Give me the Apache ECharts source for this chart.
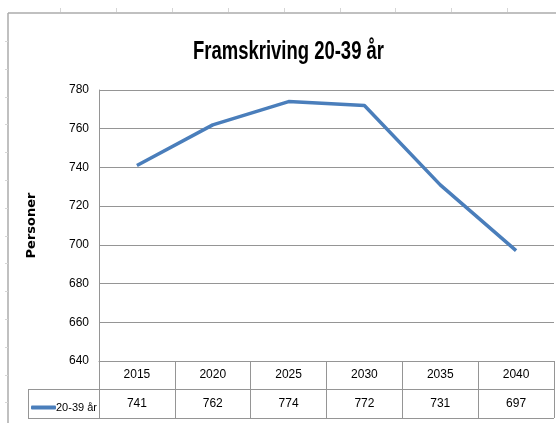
<!DOCTYPE html>
<html>
<head>
<meta charset="utf-8">
<script src="https://cdn.jsdelivr.net/npm/echarts@6/dist/echarts.min.js"></script>
<style>
  html, body { margin: 0; padding: 0; background: #fff; }
  #chart { width: 556px; height: 423px; }
</style>
</head>
<body>
<div id="chart"></div>
<script>
// data
var years = ['2015', '2020', '2025', '2030', '2035', '2040'];
var persons = [741, 762, 774, 772, 731, 697];
var seriesName = '20-39 år';
var titleText = 'Framskriving 20-39 år';
var yTicks = [640, 660, 680, 700, 720, 740, 760, 780];

var font = '"Liberation Sans", Arial, sans-serif';
var gray = '#959595';

// the original title is a narrow font, squeeze ours to the same width
var titleFont = 'bold 26px "Liberation Sans", Arial, sans-serif';
var ctx = document.createElement('canvas').getContext('2d');
ctx.font = titleFont;
var titleScale = 191 / ctx.measureText(titleText).width;

var myChart = echarts.init(document.getElementById('chart'));

// spreadsheet frame round the chart
var frame = [
	{ type: 'line', shape: { x1: 8, y1: 13, x2: 556, y2: 13 }, style: { stroke: '#ababab', lineWidth: 1.5 } },
	{ type: 'line', shape: { x1: 8, y1: 13, x2: 8, y2: 423 }, style: { stroke: '#ababab', lineWidth: 1.5 } }
];
for (var i = 0; i < 9; i++) {
	var tx = Math.round(60 + 55.9 * i) + 0.5;
	frame.push({ type: 'line', shape: { x1: tx, y1: 8, x2: tx, y2: 12 }, style: { stroke: '#d6d6d6', lineWidth: 1 } });
}
for (var j = 0; j < 14; j++) {
	var ty = Math.round(41 + 27.8 * j) + 0.5;
	frame.push({ type: 'line', shape: { x1: 5, y1: ty, x2: 8, y2: ty }, style: { stroke: '#d6d6d6', lineWidth: 1 } });
}
// data table lines
frame.push({ type: 'line', shape: { x1: 28, y1: 389.5, x2: 554, y2: 389.5 }, style: { stroke: gray, lineWidth: 1 } });
frame.push({ type: 'line', shape: { x1: 28, y1: 418.5, x2: 554, y2: 418.5 }, style: { stroke: gray, lineWidth: 1 } });
frame.push({ type: 'line', shape: { x1: 28.5, y1: 389, x2: 28.5, y2: 419 }, style: { stroke: gray, lineWidth: 1 } });
// title
frame.push({
	type: 'text',
	x: 288.5,
	y: 52,
	scaleX: titleScale,
	style: { text: titleText, font: titleFont, fill: '#000', align: 'center', verticalAlign: 'middle' }
});

var option = {
	backgroundColor: '#fff',
	animation: false,
	legend: {
		left: 26,
		top: 397,
		itemWidth: 25,
		itemHeight: 4,
		itemGap: 0,
		icon: 'roundRect',
		data: [seriesName],
		textStyle: { fontFamily: font, fontSize: 11, color: '#000', padding: [0, 0, 0, -5] }
	},
	grid: {
		left: 99,
		right: 2,
		top: 90,
		bottom: 62
	},
	xAxis: [
		{
			type: 'category',
			data: years,
			boundaryGap: true,
			axisLine: { lineStyle: { color: gray, width: 1 } },
			axisTick: { show: true, interval: 0, length: 57, lineStyle: { color: gray } },
			axisLabel: { margin: 8, fontFamily: font, fontSize: 12, color: '#000' }
		},
		{
			type: 'category',
			data: persons.map(String),
			position: 'bottom',
			offset: 29,
			axisLine: { show: false },
			axisTick: { show: false },
			axisLabel: { margin: 8, fontFamily: font, fontSize: 12, color: '#000' }
		}
	],
	yAxis: {
		type: 'value',
		min: yTicks[0],
		max: yTicks[yTicks.length - 1],
		interval: 20,
		name: 'Personer',
		nameLocation: 'middle',
		nameGap: 61,
		nameRotate: 90,
		nameTextStyle: { fontFamily: '"DejaVu Sans", sans-serif', fontSize: 13, fontWeight: 'bold', color: '#000' },
		axisLine: { show: true, lineStyle: { color: gray, width: 1 } },
		axisTick: { show: false },
		axisLabel: { margin: 10, fontFamily: font, fontSize: 12, color: '#000' },
		splitLine: { lineStyle: { color: gray, width: 1 } }
	},
	series: [
		{
			name: seriesName,
			type: 'line',
			xAxisIndex: 0,
			data: persons,
			symbol: 'none',
			lineStyle: { color: '#4a7ebb', width: 3.5 },
			itemStyle: { color: '#4a7ebb' }
		}
	],
	graphic: frame
};
myChart.setOption(option);
</script>
</body>
</html>
